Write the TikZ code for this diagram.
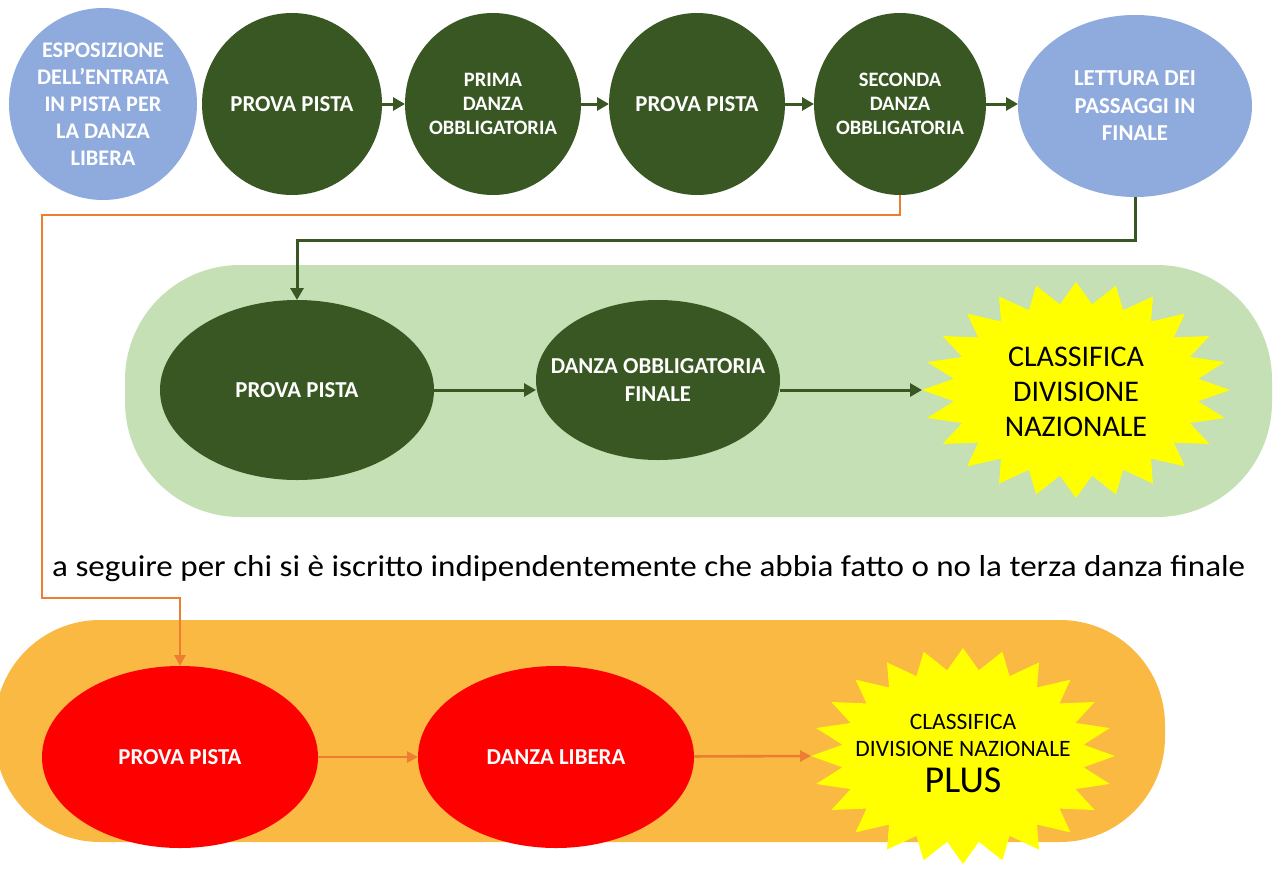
\documentclass[tikz,border=0pt]{standalone}
\usepackage{fontspec}
\setmainfont{Carlito}
\usetikzlibrary{shapes.geometric,arrows.meta}
\definecolor{dg}{HTML}{385723}
\definecolor{lb}{HTML}{8FAADC}
\definecolor{bandg}{HTML}{C5E0B4}
\definecolor{bando}{HTML}{FAB942}
\definecolor{oc}{HTML}{ED7D31}
\definecolor{sy}{HTML}{FFFF00}
\definecolor{rd}{HTML}{FF0000}
\begin{document}
\begin{tikzpicture}[x=1pt,y=-1pt,
  shp/.style={ellipse, inner sep=0pt, outer sep=0pt, draw=none},
  gsh/.style={shp, fill=dg},
  bsh/.style={shp, fill=lb},
  rsh/.style={shp, fill=rd},
  wbig/.style={align=center, text=white, inner sep=0pt, font=\bfseries\fontsize{22.8}{27.5}\selectfont},
  wsml/.style={align=center, text=white, inner sep=0pt, font=\bfseries\fontsize{20.5}{24}\selectfont},
  garr/.style={draw=dg, line width=3pt, -{Triangle[length=12pt,width=13pt]}},
  oarr/.style={draw=oc, line width=2.6pt, -{Triangle[length=11pt,width=11pt]}},
]
\useasboundingbox (0,0) rectangle (1273,870);
\fill[white] (0,0) rectangle (1273,870);

% bands
\fill[bandg, rounded corners=115pt] (125,265) rectangle (1272,517);
\fill[bando, rounded corners=105pt] (-5,620) rectangle (1165,842);

% top row
\node[bsh, minimum width=188pt, minimum height=192pt] (e1) at (103,104) {};
\node[wbig, font=\bfseries\fontsize{22.3}{27}\selectfont] (e1t) at (e1) {ESPOSIZIONE\\DELL’ENTRATA\\IN PISTA PER\\LA DANZA\\LIBERA};
\node[gsh, minimum width=180pt, minimum height=182pt] (e2) at (292,104) {};
\node[wbig] (e2t) at (e2) {PROVA PISTA};
\node[gsh, minimum width=176pt, minimum height=182pt] (e3) at (493,104) {};
\node[wsml] (e3t) at (e3) {PRIMA\\DANZA\\OBBLIGATORIA};
\node[gsh, minimum width=176pt, minimum height=182pt] (e4) at (697,104) {};
\node[wbig] (e4t) at (e4) {PROVA PISTA};
\node[gsh, minimum width=172pt, minimum height=182pt] (e5) at (900,104) {};
\node[wsml] (e5t) at (e5) {SECONDA\\DANZA\\OBBLIGATORIA};
\node[bsh, minimum width=234pt, minimum height=182pt] (e6) at (1135,106) {};
\node[wbig] (e6t) at (e6) {LETTURA DEI\\PASSAGGI IN\\FINALE};

\draw[garr] (e2) -- (e3);
\draw[garr] (e3) -- (e4);
\draw[garr] (e4) -- (e5);
\draw[garr] (e5) -- (e6.west |- e5);

% middle row
\node[gsh, minimum width=274pt, minimum height=180pt] (g1) at (297,390) {};
\node[wbig] (g1t) at (g1) {PROVA PISTA};
\node[gsh, minimum width=244pt, minimum height=160pt] (g2) at (658,380) {};
\node[wbig] (g2t) at (g2) {DANZA OBBLIGATORIA\\FINALE};
\begin{scope}[shift={(1076,390)}]
\fill[sy] (0:154 and 108) \foreach \i in {1,...,47} { -- ({\i*7.5}:{154*(1-0.2*mod(\i,2))} and {108*(1-0.2*mod(\i,2))}) } -- cycle;
\end{scope}
\node[shp, minimum width=308pt, minimum height=216pt] (s1) at (1076,390) {};
\node[align=center, inner sep=0pt, font=\fontsize{30}{35}\selectfont] (s1t) at (1076,392) {CLASSIFICA\\DIVISIONE\\NAZIONALE};

\draw[garr] (g1) -- (g2.west |- g1);
\draw[garr] (g2.east |- s1) -- (s1.west);

% note
\node[anchor=base west, inner sep=0pt] (note) at (52,576) {\resizebox{1193pt}{21pt}{\fontsize{24}{28}\selectfont a seguire per chi si è iscritto indipendentemente che abbia fatto o no la terza danza finale}};

% bottom row
\node[rsh, minimum width=276pt, minimum height=182pt] (r1) at (180,757) {};
\node[wbig] (r1t) at (r1) {PROVA PISTA};
\node[rsh, minimum width=276pt, minimum height=182pt] (r2) at (556,757) {};
\node[wbig] (r2t) at (r2) {DANZA LIBERA};
\begin{scope}[shift={(963,756)}]
\fill[sy] (0:152 and 108) \foreach \i in {1,...,47} { -- ({\i*7.5}:{152*(1-0.2*mod(\i,2))} and {108*(1-0.2*mod(\i,2))}) } -- cycle;
\end{scope}
\node[shp, minimum width=304pt, minimum height=216pt] (s2) at (963,756) {};
\node[align=center, inner sep=0pt, font=\fontsize{23.5}{27}\selectfont] (s2t) at (963,754) {CLASSIFICA\\DIVISIONE NAZIONALE\\[9pt]{\fontsize{38}{40}\selectfont PLUS}};

\draw[oarr] (r1) -- (r2);
\draw[oarr] (r2) -- (s2.west);

% long connectors
\coordinate (oa) at (42,215);
\coordinate (ob) at (42,598);
\draw[oarr] (e5.south) |- (oa) -- (ob) -| (r1.north);
\coordinate (ga) at (297,240);
\draw[garr] (e6.south) |- (ga) -- (g1.north);
\end{tikzpicture}
\end{document}
